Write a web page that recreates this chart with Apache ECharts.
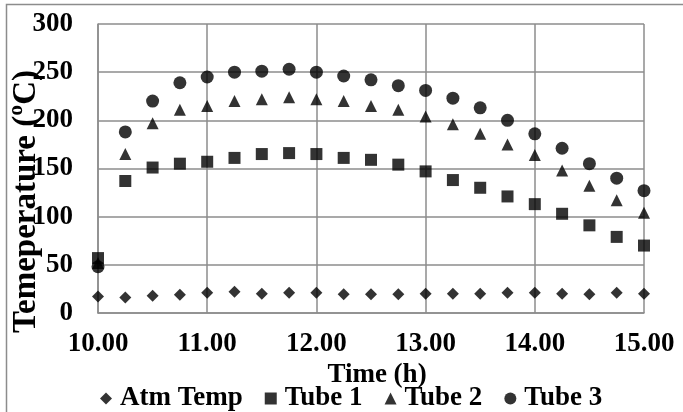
<!DOCTYPE html>
<html>
<head>
<meta charset="utf-8">
<script src="https://cdn.jsdelivr.net/npm/echarts@6/dist/echarts.min.js"></script>
<style>
html, body { margin: 0; padding: 0; background: #fff; }
#chart { width: 683px; height: 412px; }
</style>
</head>
<body>
<div id="chart"></div>
<script>
var hours = [10.00, 10.25, 10.50, 10.75, 11.00, 11.25, 11.50, 11.75, 12.00, 12.25, 12.50,
    12.75, 13.00, 13.25, 13.50, 13.75, 14.00, 14.25, 14.50, 14.75, 15.00];
var atmTemp = [17, 16, 18, 19, 21, 22, 20, 21, 21, 19.5, 19.5, 19.5, 20, 20, 20, 21, 21, 20, 19.5, 21, 20];
var tube1 = [57, 137, 151, 155, 157, 161, 165, 166, 165, 161, 159, 154, 147, 138, 130, 121, 113, 103, 91, 79, 70];
var tube2 = [52, 165, 197, 211, 215, 220, 222, 224, 222, 220, 215, 211, 204, 196, 186, 175, 164, 148, 132, 117, 104];
var tube3 = [48, 188, 220, 239, 245, 250, 251, 253, 250, 246, 242, 236, 231, 223, 213, 200, 186, 171, 155, 140, 127];
var yTicks = { min: 0, max: 300, interval: 50 };
var xTicks = { min: 10, max: 15, interval: 1 };

function pairs(vals) {
    return hours.map(function (h, i) { return [h, vals[i]]; });
}

var chartDom = document.getElementById('chart');
var myChart = echarts.init(chartDom);
var font = 'Liberation Serif';
var gridColor = '#8c8c8c';
var fs = 27;

var option = {
    animation: false,
    textStyle: { fontFamily: font, fontWeight: 'bold', color: '#000' },
    graphic: [{
        type: 'rect',
        shape: { x: 6.5, y: 4.5, width: 720, height: 440 },
        style: { fill: 'none', stroke: gridColor, lineWidth: 1.5 },
        silent: true
    }],
    grid: { left: 98, right: 39, top: 24, bottom: 99, outerBoundsMode: 'none', containLabel: false },
    legend: {
        top: 380,
        left: 95,
        itemGap: 22,
        itemWidth: 12,
        itemHeight: 12,
        textStyle: { fontFamily: font, fontWeight: 'bold', fontSize: fs, color: '#000', padding: [0, 0, 0, 3] },
        data: [
            { name: 'Atm Temp', icon: 'diamond' },
            { name: 'Tube 1', icon: 'rect' },
            { name: 'Tube 2', icon: 'triangle' },
            { name: 'Tube 3', icon: 'circle' }
        ]
    },
    xAxis: {
        type: 'value',
        min: xTicks.min,
        max: xTicks.max,
        interval: xTicks.interval,
        name: 'Time (h)',
        nameLocation: 'middle',
        nameGap: 49,
        nameMoveOverlap: false,
        nameTextStyle: { fontFamily: font, fontWeight: 'bold', fontSize: fs, color: '#000', padding: [0, 0, 0, 12] },
        axisLine: { show: true, lineStyle: { color: gridColor, width: 1.5 } },
        axisTick: { show: false },
        splitLine: { show: true, lineStyle: { color: gridColor, width: 1.5 } },
        axisLabel: {
            margin: 18,
            fontFamily: font, fontWeight: 'bold', fontSize: fs, color: '#000',
            formatter: function (v) { return v.toFixed(2); }
        }
    },
    yAxis: {
        type: 'value',
        min: yTicks.min,
        max: yTicks.max,
        interval: yTicks.interval,
        name: 'Temeperature (ºC)',
        nameLocation: 'middle',
        nameGap: 55,
        nameMoveOverlap: false,
        nameTextStyle: { fontFamily: font, fontWeight: 'bold', fontSize: 33, color: '#000', padding: [0, 66, 0, 0] },
        axisLine: { show: true, lineStyle: { color: gridColor, width: 1.5 } },
        axisTick: { show: false },
        splitLine: { show: true, lineStyle: { color: gridColor, width: 1.5 } },
        axisLabel: {
            margin: 25,
            fontFamily: font, fontWeight: 'bold', fontSize: fs, color: '#000'
        }
    },
    series: [
        { name: 'Atm Temp', type: 'scatter', symbol: 'diamond', symbolSize: 12,
          itemStyle: { color: '#000' }, data: pairs(atmTemp) },
        { name: 'Tube 1', type: 'scatter', symbol: 'rect', symbolSize: 12,
          itemStyle: { color: '#000' }, data: pairs(tube1) },
        { name: 'Tube 2', type: 'scatter', symbol: 'triangle', symbolSize: 12,
          itemStyle: { color: '#000' }, data: pairs(tube2) },
        { name: 'Tube 3', type: 'scatter', symbol: 'circle', symbolSize: 13,
          itemStyle: { color: '#000' }, data: pairs(tube3) }
    ]
};
option && myChart.setOption(option);
</script>
</body>
</html>
